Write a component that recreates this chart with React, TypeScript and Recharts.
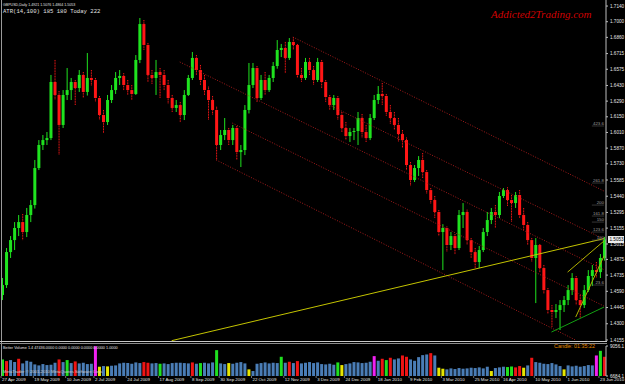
import React from "react";
import { ComposedChart, BarChart, Bar, XAxis, YAxis, ReferenceLine, Cell } from "recharts";

// GBPUSD daily candles (each entry ~ two sessions)
const firstOpen = 1.4557;
const closes = [
  1.4646, 1.4941, 1.5048, 1.5156, 1.5209, 1.512, 1.5272, 1.5361, 1.5692, 1.5898,
  1.5942, 1.596, 1.6461, 1.6345, 1.6077, 1.6345, 1.6389, 1.6461, 1.6407, 1.6524,
  1.6372, 1.6497, 1.6479, 1.6318, 1.6166, 1.6103, 1.63, 1.6389, 1.6497, 1.6515,
  1.6434, 1.6389, 1.6354, 1.6658, 1.6979, 1.6792, 1.6524, 1.6497, 1.655, 1.6524,
  1.6434, 1.6318, 1.6229, 1.6255, 1.6166, 1.6345, 1.6497, 1.6676, 1.6568, 1.6479,
  1.6389, 1.63, 1.6211, 1.5898, 1.5987, 1.6032, 1.5942, 1.605, 1.5835, 1.5853,
  1.6211, 1.6434, 1.6586, 1.6318, 1.6479, 1.6389, 1.6497, 1.6604, 1.6747, 1.6765,
  1.6676, 1.6819, 1.6792, 1.6524, 1.6497, 1.664, 1.6568, 1.6479, 1.664, 1.6461,
  1.6327, 1.6255, 1.6318, 1.6166, 1.605, 1.5978, 1.6014, 1.6023, 1.6139, 1.6014,
  1.596, 1.6139, 1.63, 1.6354, 1.6336, 1.6193, 1.6139, 1.6077, 1.5996, 1.5942,
  1.5719, 1.5585, 1.5692, 1.5764, 1.5656, 1.5495, 1.5406, 1.5299, 1.512, 1.5156,
  1.5004, 1.5084, 1.4977, 1.5272, 1.5299, 1.5048, 1.4941, 1.4852, 1.4959, 1.512,
  1.5227, 1.5299, 1.5272, 1.5442, 1.5495, 1.5406, 1.5379, 1.5451, 1.5272, 1.5183,
  1.5048, 1.4888, 1.5004, 1.4798, 1.4601, 1.4423, 1.4405, 1.4423, 1.4467, 1.4512,
  1.4601, 1.4709, 1.4512, 1.4467, 1.4601, 1.4727, 1.478, 1.4762, 1.4888, 1.5053,
];
const highs = [
  1.4709, 1.4977, 1.5084, 1.5209, 1.5272, 1.5281, 1.5335, 1.5406, 1.5764, 1.5942,
  1.5987, 1.6014, 1.6524, 1.6658, 1.638, 1.6389, 1.6586, 1.6497, 1.6479, 1.6568,
  1.655, 1.672, 1.6568, 1.6497, 1.6336, 1.6211, 1.6345, 1.6434, 1.655, 1.6568,
  1.654, 1.6479, 1.6434, 1.6702, 1.7033, 1.7015, 1.681, 1.6568, 1.6658, 1.6586,
  1.6568, 1.6479, 1.6345, 1.63, 1.6282, 1.6389, 1.6524, 1.6729, 1.6702, 1.6613,
  1.6524, 1.642, 1.6336, 1.624, 1.6032, 1.6139, 1.605, 1.6077, 1.6068, 1.5898,
  1.6255, 1.6631, 1.6631, 1.6604, 1.6524, 1.655, 1.6524, 1.664, 1.6836, 1.6801,
  1.6819, 1.6854, 1.6863, 1.6801, 1.6586, 1.6676, 1.6676, 1.6604, 1.6676, 1.6658,
  1.6479, 1.6345, 1.6345, 1.6335, 1.6193, 1.6103, 1.605, 1.605, 1.6193, 1.6175,
  1.6077, 1.6175, 1.6345, 1.6425, 1.6452, 1.6354, 1.6255, 1.6193, 1.6139, 1.6032,
  1.5965, 1.5746, 1.5719, 1.5799, 1.5826, 1.5674, 1.5513, 1.5442, 1.5317, 1.519,
  1.517, 1.512, 1.5102, 1.5317, 1.5379, 1.532, 1.5066, 1.4977, 1.4995, 1.5156,
  1.5299, 1.5335, 1.5361, 1.5478, 1.5513, 1.552, 1.5451, 1.5478, 1.5495, 1.5335,
  1.5209, 1.5066, 1.5066, 1.5013, 1.4825, 1.4619, 1.4467, 1.4476, 1.4512, 1.4548,
  1.4646, 1.4753, 1.4727, 1.4557, 1.4646, 1.478, 1.4825, 1.4852, 1.4923, 1.5076,
];
const lows = [
  1.4512, 1.462, 1.4888, 1.4959, 1.5084, 1.5048, 1.5075, 1.5209, 1.533, 1.5674,
  1.5853, 1.5898, 1.5942, 1.63, 1.5808, 1.605, 1.63, 1.63, 1.6255, 1.6372,
  1.6318, 1.634, 1.6425, 1.6282, 1.6121, 1.6005, 1.6077, 1.6273, 1.6354, 1.6434,
  1.6389, 1.6345, 1.63, 1.6345, 1.663, 1.6747, 1.6461, 1.6443, 1.6345, 1.6318,
  1.6389, 1.6264, 1.6193, 1.6193, 1.6103, 1.6121, 1.6336, 1.6479, 1.6524, 1.6434,
  1.6345, 1.6121, 1.6166, 1.5764, 1.5853, 1.5942, 1.5898, 1.5898, 1.5764, 1.5701,
  1.5808, 1.618, 1.6407, 1.6282, 1.63, 1.6345, 1.6372, 1.6461, 1.658, 1.6684,
  1.6541, 1.6658, 1.6747, 1.6497, 1.6461, 1.6479, 1.6524, 1.6434, 1.6461, 1.6407,
  1.6282, 1.6211, 1.6211, 1.6121, 1.6014, 1.5942, 1.5925, 1.5942, 1.5898, 1.596,
  1.5925, 1.5942, 1.6121, 1.6264, 1.6255, 1.6157, 1.6085, 1.6032, 1.5925, 1.5871,
  1.5674, 1.5531, 1.5567, 1.5621, 1.5603, 1.546, 1.537, 1.5245, 1.5084, 1.478,
  1.4941, 1.4959, 1.4923, 1.4959, 1.5156, 1.5004, 1.4888, 1.4798, 1.4798, 1.4941,
  1.5084, 1.5191, 1.5156, 1.5245, 1.5424, 1.5352, 1.5209, 1.5335, 1.5245, 1.5138,
  1.5004, 1.4852, 1.4485, 1.4762, 1.4566, 1.4387, 1.4271, 1.4351, 1.4244, 1.4405,
  1.4467, 1.4557, 1.4467, 1.4351, 1.4441, 1.4584, 1.4637, 1.4709, 1.4709, 1.4864,
];

// Better Volume histogram and its colour codes (b blue, g green, r red, y yellow, m magenta)
const volumes = [
  7994, 7863, 7942, 7784, 8046, 7680, 7889, 7811, 7601, 7522,
  7627, 7549, 7575, 7732, 7994, 7784, 7942, 7706, 7837, 7680,
  7732, 7627, 7653, 9042, 7418, 7470, 7444, 7496, 7522, 7680,
  7732, 7706, 7653, 7758, 7706, 7784, 7732, 7680, 7706, 7653,
  7680, 7627, 7706, 7732, 7732, 7706, 7680, 7758, 7653, 7706,
  7732, 7680, 7758, 8728, 7680, 7627, 7706, 7653, 7732, 7784,
  7680, 7208, 7077, 7653, 7706, 7758, 7680, 7732, 7706, 8204,
  7732, 7811, 7706, 7863, 7680, 7732, 7784, 7706, 7758, 7627,
  7601, 7653, 7575, 7758, 7549, 7627, 7680, 7784, 7758, 7706,
  7732, 7811, 8256, 7889, 8046, 7942, 8125, 7994, 8073, 8308,
  8204, 7994, 7889, 8177, 8335, 8387, 8492, 8308, 7339, 7260,
  7208, 7287, 7234, 7313, 7260, 7287, 7339, 7313, 7365, 7287,
  7418, 7077, 7313, 7365, 7418, 7391, 7444, 7365, 7470, 7339,
  7522, 8125, 7784, 7732, 7653, 7627, 7706, 7601, 7470, 7208,
  7522, 7444, 7496, 7418, 7470, 7549, 7522, 8308, 8675, 8204,
];
const volumeColors =
  "grbbrbbbbb" + "bbbbrbgbrb" + "bbbmybybbb" + "bbbbbrrbbg" + "bbbbbbbrbg" +
  "bbbgbbybbb" + "bybbbbbbbg" + "brbrbbbbbb" + "bbbgybbbbb" + "bbmbrgrbbr" +
  "rbbbbbrbyy" + "bbbbbbbbbb" + "bybbbggrry" + "brbbbbbbby" + "bbbbbbbmgr";

const dateLabels = [
  "27 Apr 2009", "19 May 2009", "10 Jun 2009", "2 Jul 2009", "24 Jul 2009",
  "17 Aug 2009", "8 Sep 2009", "30 Sep 2009", "22 Oct 2009", "12 Nov 2009",
  "3 Dec 2009", "24 Dec 2009", "18 Jan 2010", "9 Feb 2010", "3 Mar 2010",
  "25 Mar 2010", "16 Apr 2010", "10 May 2010", "1 Jun 2010", "23 Jun 2010",
];
const dateBars = [0, 8, 16, 23, 31, 39, 47, 54, 62, 70, 78, 85, 93, 101, 109, 117, 124, 132, 140, 148];

const priceTicks = [
  1.714, 1.7, 1.686, 1.6715, 1.6575, 1.643, 1.629, 1.615, 1.601, 1.587, 1.573,
  1.5585, 1.544, 1.5295, 1.5155, 1.5013, 1.4875, 1.4735, 1.459, 1.4445, 1.43, 1.4155,
];
const volumeTicks = [6684.1, 9056.1];

// drawn objects: [bar from, price from, bar to, price to]
const channelLines = [
  [72, 1.6863, 149, 1.5486],
  [81, 1.6255, 149, 1.5057],
  [44, 1.664, 149, 1.4783],
  [57, 1.6094, 149, 1.4458],
  [53, 1.5764, 142, 1.4154],
];
const trendLine = [42, 1.4149, 149, 1.5061];
const wedgeLines = [
  [140, 1.4762, 149, 1.504],
  [142, 1.436, 149, 1.4905],
];
const supportLine = [136, 1.4226, 149, 1.4449];
const fibLabels = ["423.6", "261.8", "200", "161.8", "150", "123.6", "100", "23.6"];
const fibPrices = [1.6068, 1.5558, 1.5361, 1.5263, 1.5209, 1.512, 1.5048, 1.4646];

const candles = closes.map((c, i) => ({
  i,
  o: i === 0 ? firstOpen : closes[i - 1],
  c,
  h: highs[i],
  l: lows[i],
  hl: [lows[i], highs[i]],
}));
const volumeData = volumes.map((v, i) => ({ i, v }));

const COLORS: Record<string, string> = {
  b: "#4a7db6",
  g: "#1fe01f",
  r: "#f01414",
  y: "#e6e600",
  m: "#f020f0",
};
const FONT = "'Liberation Sans', Arial, sans-serif";
const W = 625;
const AXIS_W = 19;

function Candle(props: any) {
  const { x, y, width, height, payload } = props;
  const { o, c, h, l } = payload;
  const up = c >= o;
  const color = up ? "#1fe31f" : "#ff1616";
  const k = height / (h - l || 1);
  const top = y + (h - Math.max(o, c)) * k;
  const bh = Math.max(1, Math.abs(o - c) * k);
  const cx = x + width / 2;
  return (
    <g>
      <line x1={cx} x2={cx} y1={y} y2={y + height} stroke={color} strokeWidth={1} strokeDasharray={up ? undefined : "1 0.6"} />
      <rect x={x} y={top} width={width} height={bh} fill={color} />
    </g>
  );
}

function FibText({ viewBox, text }: any) {
  if (!viewBox) return null;
  return (
    <text x={viewBox.x + viewBox.width} y={viewBox.y - 0.6} textAnchor="end" fontSize={4.4} fontFamily={FONT} fill="#9a9a9a">
      {text}
    </text>
  );
}

function PriceBox({ viewBox, text }: any) {
  if (!viewBox) return null;
  const x = viewBox.x + viewBox.width + 2;
  return (
    <g>
      <rect x={x} y={viewBox.y - 3.5} width={16} height={7} fill="#ececec" />
      <text x={x + 1.5} y={viewBox.y + 1.7} fontSize={4.6} fontFamily={FONT} fill="#000">
        {text}
      </text>
    </g>
  );
}

function DateTick({ x, y, payload }: any) {
  const idx = dateBars.indexOf(payload.value);
  return (
    <g>
      <line x1={x - 1} x2={x - 1} y1={y} y2={y + 2} stroke="#bdbdbd" strokeWidth={0.6} />
      <text x={x} y={y + 5.2} fontSize={4.4} fontFamily={FONT} fill="#e6e6e6">
        {dateLabels[idx]}
      </text>
    </g>
  );
}

function seg(l: number[], stroke: string, dash?: string, key?: string) {
  return (
    <ReferenceLine
      key={key}
      segment={[{ x: l[0], y: l[1] }, { x: l[2], y: l[3] }]}
      stroke={stroke}
      strokeWidth={1}
      strokeDasharray={dash}
      ifOverflow="hidden"
    />
  );
}

export default function App() {
  return (
    <div style={{ position: "fixed", left: 0, top: 0, width: W, height: 384, background: "#000", overflow: "hidden" }}>
      <div style={{ position: "absolute", left: 0, top: 0 }}>
        <ComposedChart width={W} height={342} data={candles} margin={{ top: 0, right: 0, bottom: 0, left: 0 }}>
          <XAxis dataKey="i" type="category" hide />
          <YAxis
            orientation="right"
            width={AXIS_W}
            domain={[1.4137, 1.7194]}
            allowDataOverflow
            ticks={priceTicks}
            interval={0}
            tickFormatter={(v: number) => v.toFixed(4)}
            tick={{ fontSize: 4.6, fontFamily: FONT, fill: "#e6e6e6" }}
            tickSize={2}
            tickMargin={2}
            stroke="#bdbdbd"
          />
          {channelLines.map((l, k) => seg(l, "#a51b1b", "1 1.6", "ch" + k))}
          {seg(trendLine, "#c4c400", undefined, "tr")}
          {wedgeLines.map((l, k) => seg(l, "#b0b000", undefined, "wd" + k))}
          {seg(supportLine, "#12a012", undefined, "sp")}
          {fibPrices.map((p, k) => (
            <ReferenceLine
              key={"fb" + k}
              segment={[{ x: 146, y: p }, { x: 149, y: p }]}
              stroke="#6a6a6a"
              strokeWidth={0.5}
              ifOverflow="hidden"
              label={<FibText text={fibLabels[k]} />}
            />
          ))}
          <Bar dataKey="hl" shape={Candle} barSize={3} isAnimationActive={false} />
          <ReferenceLine
            y={closes[closes.length - 1]}
            stroke="none"
            label={<PriceBox text={closes[closes.length - 1].toFixed(4)} />}
          />
        </ComposedChart>
      </div>
      <div style={{ position: "absolute", left: 0, top: 343 }}>
        <BarChart width={W} height={41} data={volumeData} margin={{ top: 3, right: 0, bottom: 0, left: 0 }}>
          <XAxis
            dataKey="i"
            type="category"
            ticks={dateBars}
            interval={0}
            height={8}
            axisLine={false}
            tickLine={false}
            tickSize={0}
            tickMargin={0}
            tick={<DateTick />}
          />
          <YAxis
            orientation="right"
            width={AXIS_W}
            domain={[6684.1, 9056.1]}
            allowDataOverflow
            ticks={volumeTicks}
            interval={0}
            tickFormatter={(v: number) => v.toFixed(1)}
            tick={{ fontSize: 4.6, fontFamily: FONT, fill: "#e6e6e6" }}
            tickSize={2}
            tickMargin={2}
            stroke="#bdbdbd"
          />
          <Bar dataKey="v" barSize={3} isAnimationActive={false}>
            {volumeData.map((d, k) => (
              <Cell key={k} fill={COLORS[volumeColors[k]]} />
            ))}
          </Bar>
        </BarChart>
      </div>
      {/* frame: left edge and panel separator */}
      <div style={{ position: "absolute", left: 1, top: 0, width: 1, height: 376, background: "#9a9a9a" }} />
      <div style={{ position: "absolute", left: 0, top: 341, width: 607, height: 1, background: "#c8c8c8" }} />
      <div style={{ position: "absolute", left: 0, top: 343, width: 607, height: 1, background: "#8a8a8a" }} />
      <svg width={W} height={384} style={{ position: "absolute", left: 0, top: 0, pointerEvents: "none" }}>
        <text x={3} y={5.5} fontSize={3.6} fontFamily={FONT} fill="#e0e0e0">
          GBPUSD,Daily 1.4921 1.5076 1.4864 1.5053
        </text>
        <text x={3} y={13} fontSize={5.6} fontFamily="'Liberation Mono', monospace" fill="#e0e0e0">
          ATR(14,100) 185 180 Today 222
        </text>
        <text x={491} y={18} fontSize={11} fontStyle="italic" fontFamily="'Liberation Serif', serif" fill="#d00000">
          Addicted2Trading.com
        </text>
        <text x={3} y={349} fontSize={3.8} fontFamily={FONT} fill="#e0e0e0">
          Better Volume 1.4 47436.0000 0.0000 0.0000 0.0000 0.0000 1.0000
        </text>
        <text x={554} y={348} fontSize={5.4} fontFamily={FONT} fill="#e08a00">
          Candle: 01:35:22
        </text>
        <text x={3} y={373} fontSize={4.2} fontFamily={FONT} fill="#c8c8c8">
          MetaTrader © 2001-2010 MetaQuotes Software Corp.
        </text>
      </svg>
    </div>
  );
}
